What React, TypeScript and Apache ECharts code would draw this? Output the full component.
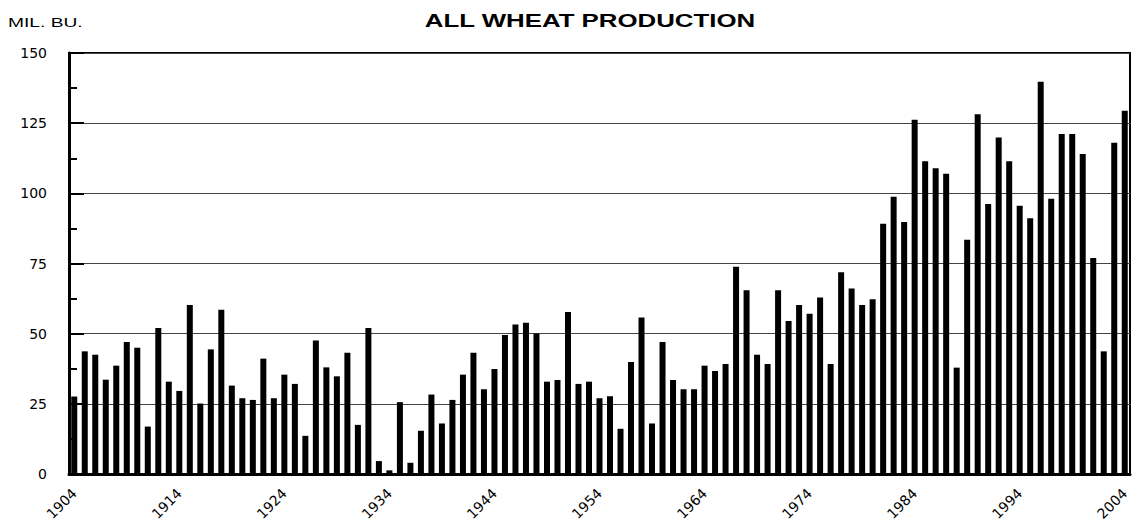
import React, { useEffect, useRef } from "react";
import * as echarts from "echarts";

const years: string[] = [];
for (let y = 1904; y <= 2004; y++) years.push(String(y));

const prod1904to1932 = [
  27.6, 43.7, 42.5, 33.6, 38.6, 47.0, 45.0, 16.9, 52.0, 32.9,
  29.6, 60.2, 25.1, 44.4, 58.5, 31.5, 27.0, 26.4, 41.1, 27.0,
  35.4, 32.1, 13.6, 47.6, 38.0, 34.8, 43.2, 17.5, 52.0,
];
const prod1933to1967 = [
  4.6, 1.3, 25.6, 4.0, 15.4, 28.3, 18.0, 26.4, 35.4, 43.2,
  30.2, 37.4, 49.5, 53.3, 53.9, 50.1, 32.9, 33.5, 57.7, 32.1,
  32.9, 27.0, 27.7, 16.1, 39.9, 55.8, 18.0, 47.0, 33.5, 30.2,
  30.2, 38.6, 36.7, 39.2, 73.8,
];
const prod1968to2004 = [
  65.5, 42.5, 39.2, 65.5, 54.5, 60.2, 57.1, 62.9, 39.2, 71.9,
  66.1, 60.2, 62.3, 89.2, 98.8, 89.8, 126.2, 111.4, 108.9, 107.0,
  37.9, 83.5, 128.2, 96.2, 119.9, 111.4, 95.6, 91.1, 139.8, 98.1,
  121.1, 121.1, 114.0, 77.0, 43.7, 118.0, 129.4,
];
const production = [...prod1904to1932, ...prod1933to1967, ...prod1968to2004];

const title = "ALL WHEAT PRODUCTION";
const unitLabel = "MIL. BU.";

export default function App() {
  const ref = useRef<HTMLDivElement>(null);
  useEffect(() => {
    if (!ref.current) return;
    const chart = echarts.init(ref.current, undefined, { renderer: "svg" });
    chart.setOption({
      animation: false,
      backgroundColor: "#fff",
      graphic: [
        {
          type: "text",
          x: 590,
          y: 20,
          scaleX: 1.36,
          style: {
            text: title,
            fontFamily: "Liberation Sans, Arial, sans-serif",
            fontWeight: "bold",
            fontSize: 19,
            fill: "#000",
            textAlign: "center",
            textVerticalAlign: "middle",
          },
        },
        {
          type: "text",
          x: 8,
          y: 23,
          scaleX: 1.6,
          style: {
            text: unitLabel,
            fontFamily: "Liberation Sans, Arial, sans-serif",
            fontSize: 12,
            fill: "#000",
            textAlign: "left",
            textVerticalAlign: "middle",
          },
        },
      ],
      grid: {
        left: 69,
        right: 4,
        top: 53,
        bottom: 50,
        show: true,
        borderColor: "#000",
        borderWidth: 2,
        backgroundColor: "transparent",
      },
      xAxis: {
        type: "category",
        data: years,
        boundaryGap: true,
        axisLine: { show: true, lineStyle: { color: "#000", width: 3 } },
        axisTick: { show: false },
        axisLabel: {
          interval: 9,
          rotate: 45,
          margin: 17,
          fontSize: 14,
          fontFamily: "DejaVu Sans",
          color: "#000",
        },
        splitLine: { show: false },
      },
      yAxis: {
        type: "value",
        min: 0,
        max: 150,
        interval: 25,
        axisLine: { show: true, lineStyle: { color: "#000", width: 3 } },
        axisTick: { show: true, inside: true, length: 15, lineStyle: { color: "#000", width: 2 } },
        minorTick: { show: true, splitNumber: 2, length: 8, lineStyle: { color: "#000", width: 2 } },
        axisLabel: {
          margin: 22,
          fontSize: 14,
          fontFamily: "DejaVu Sans",
          color: "#000",
        },
        splitLine: { show: true, lineStyle: { color: "#444", width: 1 } },
      },
      series: [
        {
          type: "bar",
          data: production,
          barWidth: 6,
          itemStyle: { color: "#000" },
        },
      ],
    });
    return () => chart.dispose();
  }, []);
  return <div ref={ref} style={{ width: 1134, height: 524, position: "absolute", left: 0, top: 0 }} />;
}
